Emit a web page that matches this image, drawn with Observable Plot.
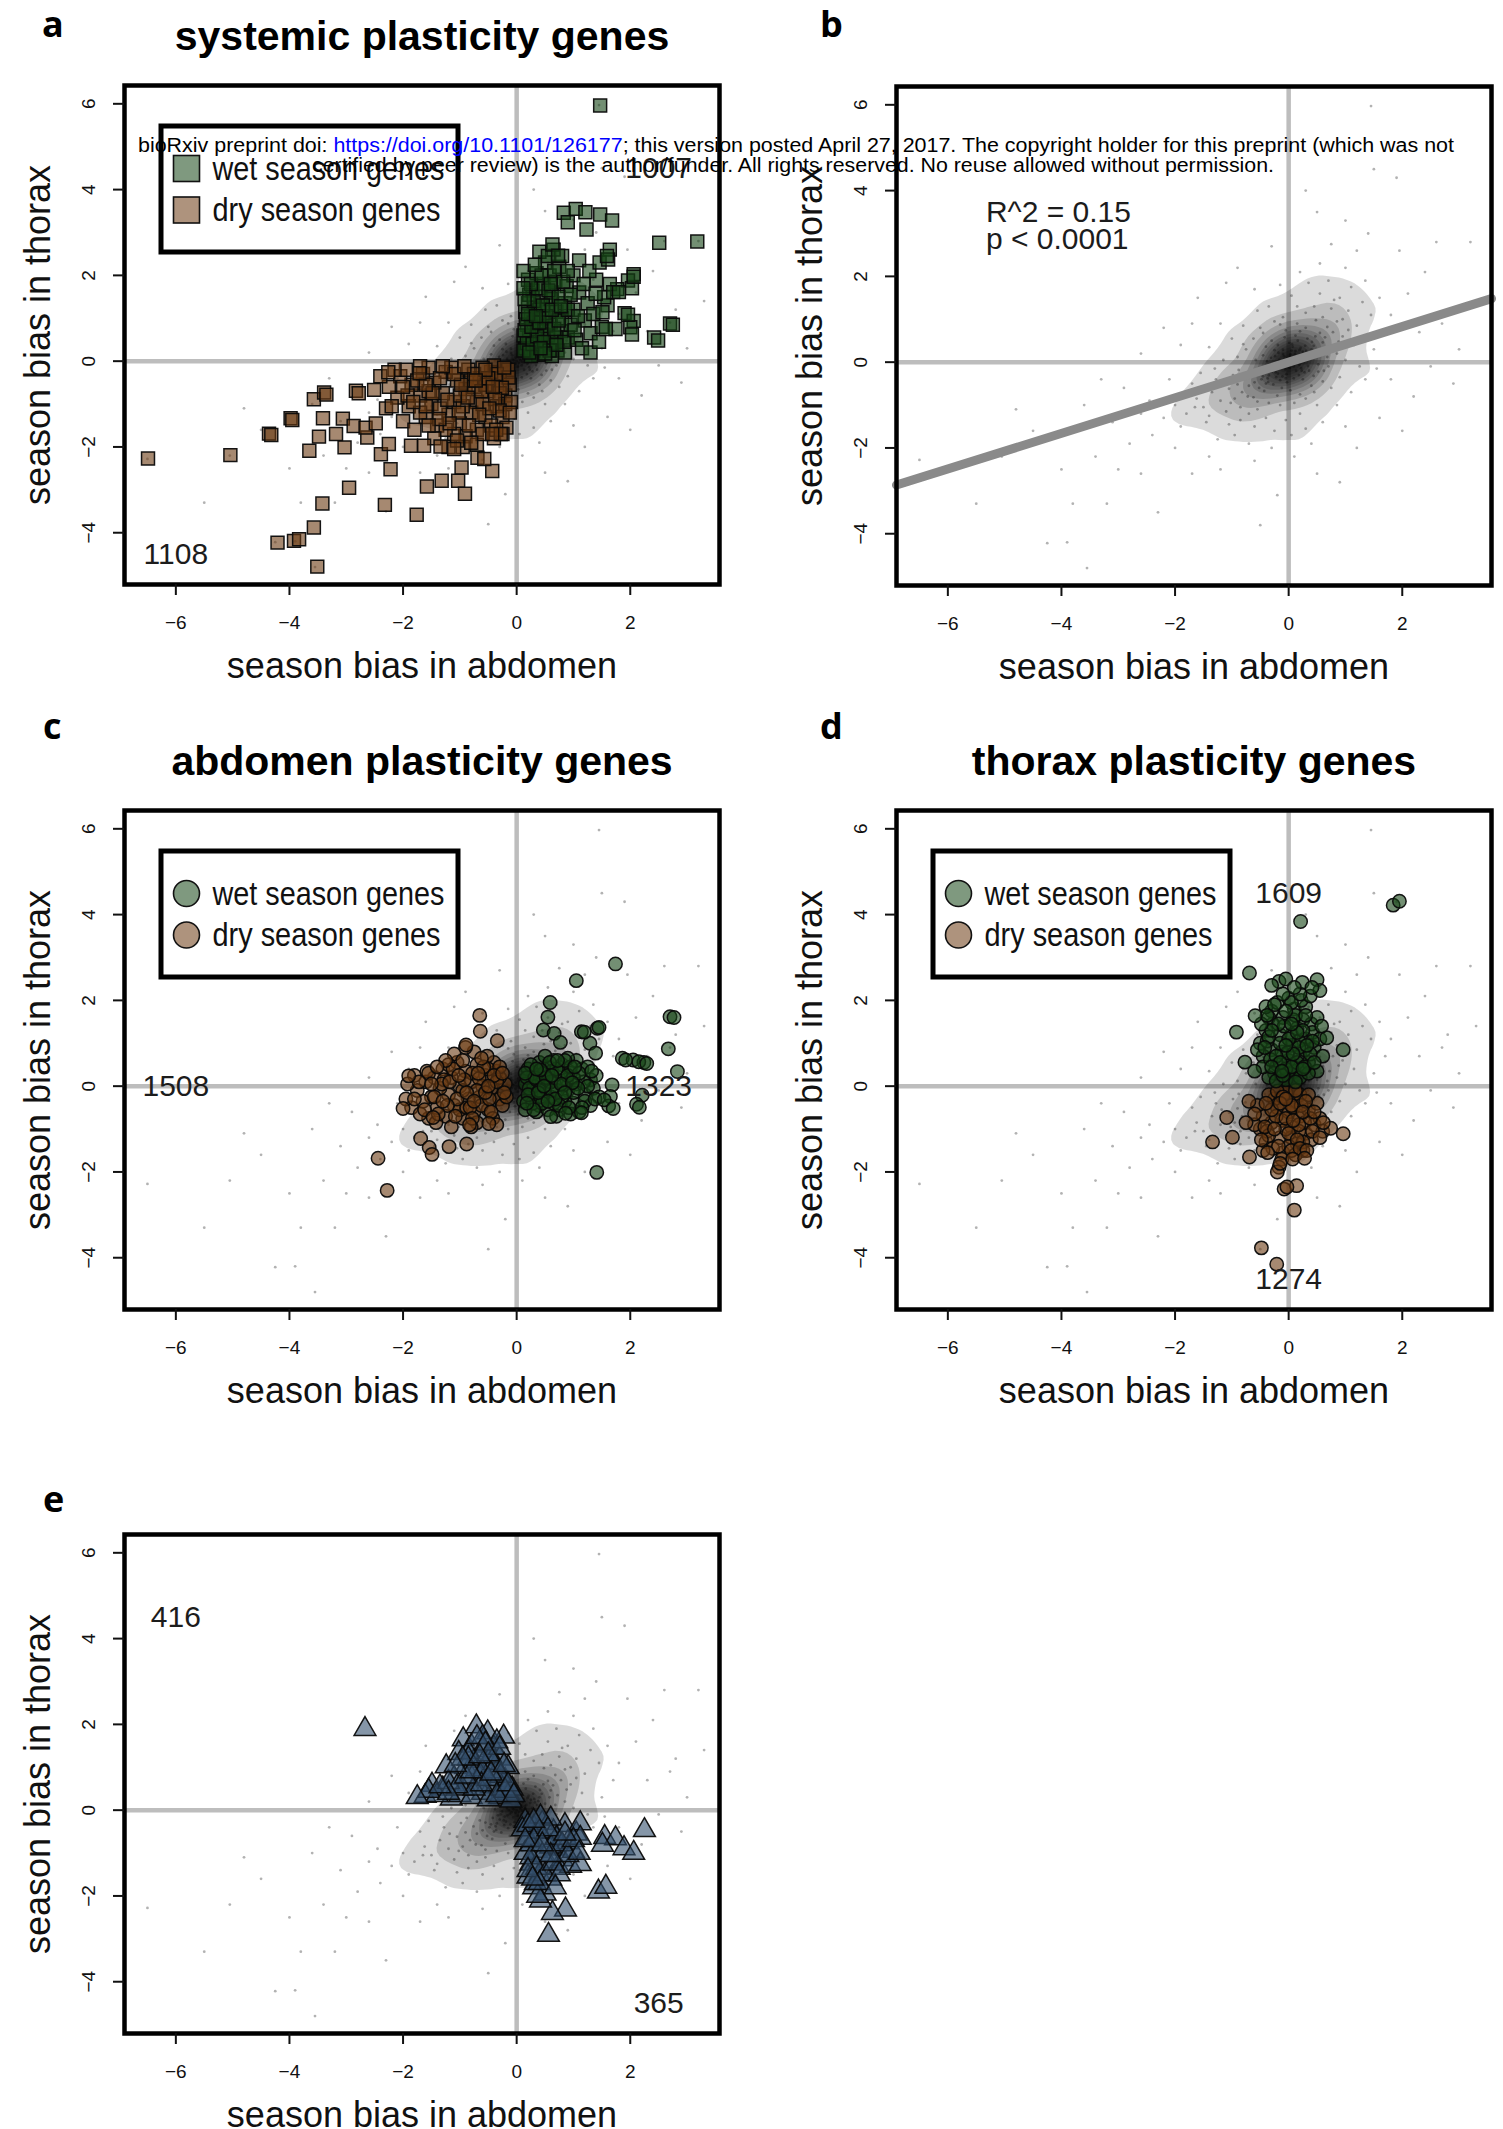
<!DOCTYPE html>
<html>
<head>
<meta charset="utf-8">
<script src="https://cdn.jsdelivr.net/npm/d3@7"></script>
<script src="https://cdn.jsdelivr.net/npm/@observablehq/plot@0.6"></script>
<style>
  html, body { margin: 0; padding: 0; background: #fff; }
  #page { position: relative; width: 1503px; height: 2129px; overflow: hidden; background: #fff;
          font-family: "Liberation Sans", Arial, sans-serif; }
  .panel { position: absolute; }
  .letter { position: absolute; font-family: "Open Sans", sans-serif; font-weight: 700;
            font-size: 36px; line-height: 1; color: #000; }
  svg.overlay { position: absolute; left: 0; top: 0; pointer-events: none; }
</style>
</head>
<body>
<div id="page"></div>
<script>
// ---- axes -------------------------------------------------------------
const xTicks = [-6, -4, -2, 0, 2];
const yTicks = [-4, -2, 0, 2, 4, 6];
const xDomain = [-6.904, 3.571];
const yDomain = [-5.207, 6.427];
const xLabel = "season bias in abdomen";
const yLabel = "season bias in thorax";

// ---- all genes: season bias (abdomen, thorax) ------------------------
const backgroundGenes = [
  [-0.05,0.02],[0.08,0.11],[-0.12,-0.09],[0.15,0.04],[-0.21,-0.15],[0.02,-0.13],[0.11,0.19],[-0.08,0.14],[0.24,0.17],[-0.3,-0.22],
  [0.05,0.27],[-0.17,0.05],[0.19,-0.06],[-0.26,-0.03],[0.31,0.26],[-0.04,-0.28],[0.13,-0.2],[-0.35,-0.31],[0.27,0.05],[-0.1,0.29],
  [0.38,0.21],[-0.42,-0.18],[0.07,0.36],[-0.22,-0.35],[0.21,0.33],[-0.31,0.1],[0.34,-0.09],[-0.15,-0.42],[0.44,0.38],[-0.48,-0.4],
  [0.01,0.45],[-0.38,0.02],[0.28,-0.24],[-0.03,-0.47],[0.5,0.15],[-0.55,-0.29],[0.16,0.5],[-0.27,-0.52],[0.41,0.47],[-0.45,0.16],
  [0.52,-0.05],[-0.6,-0.47],[0.09,-0.38],[-0.19,0.4],[0.33,0.55],[-0.52,-0.6],[0.58,0.3],[-0.07,0.58],[0.25,-0.4],[-0.36,-0.46],
  [0.47,0.6],[-0.65,-0.24],[0.6,0.46],[-0.25,0.28],[0.12,0.62],[-0.7,-0.55],[0.36,-0.2],[-0.12,-0.6],[0.55,0.68],[-0.58,0.05],
  [0.68,0.12],[-0.43,-0.67],[0.2,0.72],[-0.76,-0.38],[0.44,-0.32],[-0.3,0.5],[0.64,0.58],[-0.82,-0.7],[0.03,-0.66],[-0.05,0.74],
  [0.72,0.35],[-0.62,-0.82],[0.3,0.8],[-0.9,-0.52],[0.52,-0.22],[-0.4,0.36],[0.78,0.7],[-0.2,-0.78],[0.15,0.9],[-0.95,-0.85],
  [0.0,0.0],[0.04,-0.04],[-0.02,0.08],[0.1,-0.02],[-0.09,-0.05],[0.06,0.06],[-0.14,0.0],[0.17,0.12],[-0.06,-0.17],[0.12,0.26],
  [-0.23,-0.24],[0.22,-0.14],[-0.33,-0.12],[0.36,0.12],[-0.18,0.22],[0.03,0.18],[-0.11,-0.33],[0.29,0.38],[-0.4,-0.5],[0.18,-0.3],
  [-0.02,-0.06],[0.07,0.02],[-0.07,0.05],[0.02,0.12],[-0.16,-0.12],[0.14,0.09],[-0.1,0.19],[0.09,-0.1],[-0.28,-0.1],[0.25,0.24],
  [-0.19,-0.27],[0.19,0.28],[-0.37,-0.38],[0.32,0.18],[-0.05,-0.38],[0.06,0.42],[-0.45,-0.33],[0.4,0.3],[-0.24,0.14],[0.23,-0.2],
  [-1.05,-0.62],[-1.2,-0.9],[-1.35,-0.7],[-1.1,-1.15],[-0.98,-0.3],[-1.5,-1.05],[-1.62,-0.85],[-1.28,-0.4],[-1.8,-1.2],[-1.45,-1.4],
  [-0.85,-1.05],[-0.7,-1.2],[-1.05,-1.45],[-0.55,-1.1],[-0.9,0.12],[-0.75,0.3],[-1.15,0.05],[-0.62,0.55],[-1.3,-0.15],[-0.5,0.8],
  [0.85,0.95],[0.95,0.6],[1.05,1.2],[0.75,1.25],[0.6,1.05],[1.2,0.85],[0.9,1.5],[0.45,1.3],[1.3,1.4],[0.55,1.6],
  [0.3,1.15],[0.15,1.3],[-0.1,1.05],[-0.25,0.95],[0.05,1.55],[-0.35,1.3],[0.35,1.85],[0.7,1.9],[1.1,1.75],[1.45,1.1],
  [0.85,0.2],[1.0,0.05],[0.7,-0.1],[1.15,0.4],[0.9,-0.35],[0.6,-0.45],[0.45,-0.7],[0.3,-0.85],[0.75,-0.6],[1.25,-0.1],
  [0.1,-0.95],[-0.15,-1.0],[-0.35,-0.95],[0.2,-1.2],[-0.05,-1.35],[-0.4,-1.3],[0.5,-1.0],[-0.6,-1.5],[0.05,-1.7],[-0.25,-1.6],
  [-1.7,-0.5],[-2.0,-1.0],[-1.9,-1.5],[-2.2,-1.3],[-1.55,-0.25],[-2.4,-1.7],[-1.25,-1.8],[-0.95,-1.7],[-2.6,-1.2],[-1.0,0.55],
  [-1.4,0.35],[-0.8,0.85],[-0.55,1.2],[-1.2,0.9],[-0.15,1.8],[0.2,2.1],[0.55,2.3],[1.0,2.2],[1.35,1.9],[1.6,1.5],
  [1.7,0.7],[1.5,0.3],[1.35,-0.4],[1.1,-0.7],[0.85,-1.0],[0.6,-1.4],[0.3,-1.55],[1.55,-0.15],[1.8,1.1],[-0.7,-1.9],
  [-0.88,-0.18],[-1.02,-0.95],[-0.72,-0.8],[-1.18,-0.55],[-0.8,0.42],[0.68,0.82],[0.88,0.48],[0.48,0.98],[0.95,1.0],[0.62,-0.2],
  [-0.45,0.68],[-0.15,0.88],[0.4,-0.55],[0.2,-0.75],[-0.55,-0.92],[-1.4,-1.25],[-1.65,-1.05],[-0.85,-1.35],[1.05,0.75],[0.8,1.45],
  [-2.8,-1.9],[-3.1,-1.4],[-3.4,-2.2],[-2.9,-0.6],[-3.6,-1.0],[-4.0,-2.5],[-4.5,-1.6],[-4.25,-4.22],[-3.9,-4.2],[-3.55,-4.8],
  [-5.05,-2.2],[-6.5,-2.28],[-5.5,-3.3],[-3.2,-3.3],[-2.3,-3.5],[-1.7,-2.6],[-1.2,-2.5],[-0.6,-2.3],[0.1,-2.2],[0.5,-2.6],
  [-0.2,-3.1],[1.2,-2.0],[1.6,-1.3],[2.2,-0.8],[2.5,-0.1],[2.3,0.7],[2.8,1.2],[3.2,2.8],[2.6,2.8],[1.95,2.6],
  [1.4,3.0],[1.0,3.3],[0.5,3.5],[-0.3,2.7],[-0.9,2.2],[-1.6,1.5],[-2.2,0.8],[-2.6,0.2],[-1.9,0.4],[0.3,4.0],
  [1.45,5.97],[1.9,4.3],[1.5,4.5],[-1.1,1.85],[2.0,-1.6],[0.9,-2.8],[-0.5,-3.8],[-2.6,-2.6],[-3.8,-3.3],[-4.8,-1.1],
  [3.0,0.3],[2.9,-0.5],[-3.0,-2.5],[-2.0,-2.0],[-2.45,-0.9],[-3.3,-0.4],[1.8,-0.4],[2.1,1.6],[2.4,2.1],[1.2,2.6],
  [-0.6,1.7],[0.75,2.75],[-1.4,-2.2],[-0.3,-2.0],[0.4,-1.9],[1.0,-1.5],[2.7,0.9],[-1.7,0.9],[-2.1,-0.4],[3.3,1.4]
];

// ---- a: systemic plasticity genes -------------------------------------
const systemicWet = [
  [0.15,0.3],[0.22,0.55],[0.3,0.25],[0.18,0.85],[0.4,0.45],[0.35,0.75],[0.25,1.05],[0.5,0.3],[0.45,1.0],[0.55,0.6],
  [0.2,1.35],[0.6,0.9],[0.32,1.25],[0.65,0.4],[0.42,1.5],[0.7,1.15],[0.28,1.65],[0.55,1.3],[0.78,0.7],[0.15,1.15],
  [0.38,0.15],[0.62,1.6],[0.8,1.0],[0.48,1.8],[0.2,1.9],[0.72,0.25],[0.85,1.35],[0.35,2.05],[0.9,0.55],[0.58,2.0],
  [0.12,0.6],[0.95,0.85],[0.68,1.85],[1.0,1.2],[0.25,0.12],[0.85,0.2],[1.05,0.5],[0.75,2.2],[1.1,1.6],[0.5,2.3],
  [0.18,0.42],[0.45,0.62],[0.3,0.9],[0.62,0.12],[0.52,0.82],[0.4,1.2],[0.7,0.55],[0.22,1.55],[0.6,1.45],[0.88,1.75],
  [1.15,0.3],[1.2,0.95],[1.25,1.35],[1.0,2.0],[0.8,2.45],[0.65,2.6],[1.3,0.65],[1.1,2.35],[0.4,2.55],[0.12,2.1],
  [1.35,1.1],[1.4,1.9],[1.3,0.2],[1.5,0.8],[1.45,0.45],[1.6,1.3],[1.28,2.1],[1.18,1.8],
  [0.12,0.25],[0.28,0.4],[0.36,0.58],[0.14,0.72],[0.48,0.45],[0.58,0.25],[0.26,0.8],[0.4,0.9],[0.52,1.05],[0.16,0.98],
  [0.66,0.75],[0.74,0.95],[0.3,1.4],[0.46,1.3],[0.62,1.2],[0.14,1.45],[0.38,1.7],[0.56,1.65],[0.74,1.5],[0.25,1.8],
  [0.44,2.0],[0.66,2.1],[0.82,1.85],[0.9,1.2],[0.84,0.45],[0.22,0.2],[0.12,1.7],[0.32,2.25],[0.55,2.45],[0.95,1.55],
  [0.7,0.38],[1.02,0.72],[0.2,1.1],[0.5,0.18],[0.78,1.28],[0.34,1.05],[0.6,1.8],[1.08,1.05],[0.42,0.3],[0.9,2.1],
  [1.47,5.96],[0.83,3.46],[1.04,3.55],[1.21,3.47],[1.47,3.42],[1.68,3.28],[0.9,3.24],[1.23,3.07],[2.51,2.76],[3.18,2.79],
  [0.63,2.72],[1.64,2.6],[0.73,2.46],[1.46,2.3],[1.61,2.37],[2.06,2.03],[1.96,1.88],[2.03,1.7],[1.77,1.68],[1.64,1.8],
  [1.54,1.49],[1.9,1.12],[2.06,0.94],[2.7,0.88],[2.0,0.79],[2.42,0.55],[1.74,0.75],[1.57,0.75],[1.51,1.14],[1.39,1.57],
  [1.59,2.45],[2.06,1.97],[1.7,1.61],[1.96,1.08],[2.75,0.85],[2.49,0.48],[2.03,0.62],[1.8,1.61]
];
const systemicDry = [
  [-0.15,-0.2],[-0.3,-0.45],[-0.2,-0.8],[-0.45,-0.25],[-0.5,-0.7],[-0.35,-1.05],[-0.65,-0.4],[-0.7,-0.95],[-0.55,-1.3],[-0.85,-0.2],
  [-0.9,-0.65],[-0.8,-1.2],[-1.05,-0.45],[-1.1,-0.95],[-1.0,-1.45],[-1.25,-0.25],[-1.3,-0.75],[-1.2,-1.25],[-1.45,-0.5],[-1.5,-1.0],
  [-1.4,-1.5],[-1.65,-0.3],[-1.7,-0.8],[-1.6,-1.3],[-1.85,-0.55],[-1.9,-1.05],[-2.05,-0.35],[-2.1,-0.85],[-2.0,-1.4],[-2.25,-0.6],
  [-0.12,-0.55],[-0.25,-1.3],[-0.4,-0.1],[-0.6,-0.15],[-0.75,-0.6],[-0.95,-1.05],[-1.15,-0.15],[-1.35,-1.1],[-1.55,-0.7],[-1.8,-1.6],
  [-0.3,-0.75],[-0.45,-1.5],[-0.7,-1.6],[-0.9,-1.75],[-1.1,-1.7],[-0.2,-1.0],[-0.6,-1.0],[-1.0,-0.8],[-1.25,-1.6],[-1.45,-1.8],
  [-0.1,-0.95],[-0.35,-0.3],[-0.8,-0.45],[-1.55,-0.15],[-2.3,-1.1],[-2.4,-0.35],[-0.18,-1.55],[-0.55,-0.55],[-1.7,-1.2],[-1.95,-0.2],
  [-0.95,-2.0],[-0.7,-1.95],[-1.2,-2.0],[-0.4,-1.8],[-0.25,-1.7],
  [-0.14,-0.38],[-0.26,-0.62],[-0.38,-0.88],[-0.5,-0.4],[-0.62,-0.7],[-0.75,-0.3],[-0.86,-0.85],[-0.98,-0.55],[-1.1,-0.3],[-1.22,-0.9],
  [-1.35,-0.4],[-1.48,-0.75],[-1.6,-1.05],[-1.75,-0.45],[-1.92,-0.8],[-0.3,-1.15],[-0.48,-1.1],[-0.66,-1.25],[-0.84,-1.5],[-1.02,-1.2],
  [-1.18,-1.45],[-1.36,-1.35],[-1.55,-1.5],[-0.22,-0.15],[-0.55,-0.2],[-0.92,-0.12],[-1.3,-0.12],[-1.7,-0.12],[-2.15,-0.2],[-2.2,-1.05],
  [-0.12,-1.2],[-0.36,-1.6],[-0.6,-1.7],[-0.8,-1.9],[-1.05,-1.85],[-1.6,-0.55],[-1.82,-0.95],[-2.0,-0.6],[-0.72,-0.45],[-0.42,-0.6],
  [-6.49,-2.27],[-5.04,-2.19],[-4.36,-1.69],[-3.98,-1.33],[-3.57,-0.89],[-3.39,-0.73],[-3.41,-1.33],[-3.65,-2.09],[-3.48,-1.76],[-3.18,-1.7],
  [-3.06,-1.34],[-3.03,-2.01],[-2.87,-1.51],[-2.83,-0.69],[-2.63,-1.78],[-2.66,-1.55],[-2.51,-0.67],[-2.48,-1.45],[-2.39,-2.17],[-2.25,-1.93],
  [-2.22,-2.52],[-2.26,-0.26],[-2.95,-2.95],[-3.42,-3.32],[-3.57,-3.88],[-4.21,-4.23],[-3.92,-4.19],[-3.83,-4.15],[-3.51,-4.79],[-2.32,-3.35],
  [-1.76,-3.58],[-1.58,-2.92],[-1.32,-2.79],[-1.03,-2.79],[-0.91,-3.09],[-0.97,-2.48],[-0.43,-2.56],[-0.69,-2.25],[-0.57,-2.28],[-1.86,-1.97],
  [-1.63,-1.97],[-1.34,-1.99],[-1.1,-2.05],[-0.28,-1.7],[-0.43,-1.7],[-1.71,-0.28],[-2.78,-0.75],[-3.35,-0.78],[-3.95,-1.37],[-4.32,-1.72]
];
const systemicCounts = [1007, 1108];

// ---- b: all genes, linear fit ----------------------------------------
const fit = {intercept: 0.0, slope: 0.415};
const fitStats = ["R^2 = 0.15", "p < 0.0001"];

// ---- c: abdomen plasticity genes -------------------------------------
const abdomenWet = [
  [0.15,0.05],[0.25,-0.2],[0.3,0.3],[0.4,-0.45],[0.45,0.1],[0.55,0.45],[0.6,-0.25],[0.7,0.15],[0.75,-0.55],[0.8,0.5],
  [0.9,-0.1],[0.95,0.3],[1.0,-0.4],[1.05,0.05],[1.15,0.4],[1.2,-0.2],[1.3,0.15],[0.2,0.4],[0.35,-0.6],[0.5,-0.05],
  [0.65,0.6],[0.85,-0.35],[1.1,-0.6],[0.12,-0.35],[0.4,0.55],[0.62,0.35],[0.88,0.15],[1.25,0.45],[0.3,0.0],[0.72,-0.1],
  [0.55,-0.55],[1.35,-0.05],[0.18,0.2],[0.48,0.3],[0.95,-0.65],[0.78,0.32],[1.05,0.6],[0.28,-0.4],[0.65,-0.4],[1.18,0.1],
  [0.22,-0.05],[0.42,-0.25],[0.82,0.02],[1.0,0.2],[0.6,0.1],[0.35,0.15],[1.4,0.25],[1.45,-0.25],[0.9,0.65],[0.5,0.7],
  [0.7,-0.7],[0.15,-0.55],[1.3,-0.45],[0.95,0.45],[0.4,-0.1],
  [0.2,-0.2],[0.32,0.2],[0.45,-0.4],[0.52,0.2],[0.62,-0.1],[0.7,0.4],[0.8,-0.25],[0.9,0.25],[1.0,-0.15],[1.1,0.3],
  [1.2,-0.35],[1.25,0.0],[0.25,0.5],[0.38,-0.15],[0.58,0.55],[0.75,-0.45],[0.85,0.6],[1.02,0.45],[1.15,-0.5],[0.3,-0.55],
  [0.15,0.3],[0.42,0.38],[0.68,-0.3],[0.92,-0.5],[1.08,-0.05],[0.55,-0.35],[0.78,0.05],[0.48,0.0],[0.98,0.08],[1.32,0.35],
  [0.62,0.25],[0.85,-0.15],[0.35,0.4],[1.38,-0.3],[0.72,0.6],[0.18,-0.4],
  [0.59,1.95],[0.55,1.61],[0.47,1.31],[0.66,1.23],[1.14,1.27],[1.42,1.35],[1.45,1.37],[0.77,1.02],[1.29,1.0],[1.39,0.77],
  [2.7,1.62],[2.67,0.87],[1.86,0.65],[2.05,0.61],[2.24,0.55],[2.15,0.57],[2.83,0.34],[2.21,-0.21],[2.11,-0.42],[1.68,0.03],
  [1.65,-0.24],[1.62,-0.46],[1.54,-0.32],[1.14,-0.62],[0.6,-0.71],[0.86,-0.63],[1.41,-2.01],[1.74,2.85],[1.05,2.46],[1.19,1.26],
  [2.77,1.6],[1.92,0.61],[2.29,0.53],[2.16,-0.49],[1.7,-0.52]
];
const abdomenDry = [
  [-0.2,0.05],[-0.3,-0.3],[-0.35,0.35],[-0.45,-0.05],[-0.5,-0.55],[-0.55,0.25],[-0.65,-0.25],[-0.7,0.5],[-0.75,-0.6],[-0.8,0.1],
  [-0.85,-0.3],[-0.9,0.35],[-0.95,-0.75],[-1.0,0.0],[-1.05,0.55],[-1.1,-0.45],[-1.15,0.2],[-1.2,-0.2],[-1.25,-0.7],[-1.3,0.4],
  [-1.35,-0.05],[-1.4,-0.5],[-1.45,0.2],[-1.5,-0.25],[-1.55,-0.75],[-1.6,0.1],[-1.65,-0.35],[-1.75,-0.1],[-1.8,0.25],[-1.85,-0.5],
  [-0.25,-0.45],[-0.4,0.55],[-0.6,0.0],[-0.7,-0.85],[-0.75,0.8],[-0.9,0.9],[-0.95,-0.1],[-1.0,-0.55],[-1.1,0.75],[-1.2,0.5],
  [-0.3,0.2],[-0.5,0.4],[-0.62,-0.45],[-0.78,0.3],[-1.28,0.15],[-1.42,-0.85],[-1.58,0.35],[-0.42,-0.75],[-0.18,-0.25],[-0.88,-0.5],
  [-0.52,0.7],[-0.66,0.18],[-1.92,0.05],[-1.7,-0.65],[-0.35,-0.9],[-1.15,-0.95],[-0.8,-0.95],[-1.95,-0.3],
  [-0.22,-0.15],[-0.35,0.1],[-0.48,-0.3],[-0.58,0.45],[-0.7,-0.1],[-0.82,-0.5],[-0.92,0.15],[-1.05,-0.3],[-1.12,0.4],[-1.22,-0.45],
  [-1.32,0.05],[-1.45,-0.25],[-1.55,0.3],[-1.62,-0.55],[-1.72,0.1],[-0.3,0.45],[-0.45,-0.6],[-0.62,0.65],[-0.78,-0.75],[-0.95,0.6],
  [-1.08,-0.7],[-1.25,0.6],[-1.38,-0.65],[-1.5,0.05],[-1.8,-0.3],[-0.4,0.25],[-0.55,-0.15],[-0.68,0.3],[-0.88,-0.15],[-1.18,0.1],
  [-0.25,0.3],[-1.02,0.25],[-1.4,0.45],[-0.75,-0.35],[-1.3,-0.35],[-0.5,0.0],
  [-0.65,1.65],[-0.64,1.28],[-0.34,1.06],[-0.89,0.96],[-1.9,0.24],[-2.0,-0.52],[-1.69,-1.22],[-1.54,-1.43],[-1.49,-1.59],[-1.19,-1.41],
  [-0.88,-1.35],[-2.44,-1.68],[-2.28,-2.43],[-1.47,-0.73],[-0.83,-0.9],[-0.49,-0.87]
];
const abdomenCounts = [1508, 1323];

// ---- d: thorax plasticity genes --------------------------------------
const thoraxWet = [
  [-0.05,0.15],[0.1,0.35],[-0.2,0.5],[0.2,0.7],[-0.3,0.85],[0.05,0.95],[0.3,1.1],[-0.15,1.2],[0.15,1.35],[-0.4,1.3],
  [0.35,0.55],[-0.45,0.7],[0.25,1.55],[-0.1,1.6],[0.1,1.8],[-0.3,1.75],[0.4,1.45],[-0.5,1.0],[0.0,0.6],[-0.25,0.3],
  [0.2,0.2],[0.45,0.9],[-0.35,0.2],[0.05,1.2],[-0.2,1.95],[0.3,1.85],[0.0,2.05],[-0.05,0.4],[0.15,0.55],[-0.12,0.8],
  [0.28,0.85],[-0.38,1.05],[0.42,1.25],[-0.28,1.45],[0.08,1.55],[-0.45,0.45],[0.5,0.35],[0.35,0.3],[-0.15,1.0],[0.18,1.05],
  [-0.08,1.4],[0.22,2.0],[-0.35,1.6],[0.5,1.6],[-0.55,0.85],[0.55,1.1],[0.12,0.1],[-0.22,0.12],[0.05,1.95],[-0.4,1.85],
  [0.38,2.1],[0.28,0.45],[-0.02,0.78],[-0.32,0.62],[0.6,0.7],[-0.6,0.35],
  [-0.1,0.25],[0.05,0.45],[-0.22,0.7],[0.18,0.9],[-0.35,1.15],[0.0,1.1],[0.25,1.3],[-0.18,1.45],[0.12,1.65],[-0.3,1.3],
  [0.38,0.75],[-0.42,0.9],[0.3,1.65],[-0.05,1.75],[0.15,1.25],[-0.25,1.9],[0.42,1.05],[-0.48,1.45],[0.08,0.75],[-0.15,0.55],
  [0.25,0.4],[0.45,0.55],[-0.3,0.45],[0.05,1.45],[-0.1,2.15],[0.2,2.15],[-0.12,0.35],[0.32,0.95],[-0.05,0.95],[-0.38,1.65],
  [1.84,4.22],[1.95,4.31],[0.21,3.84],[-0.69,2.64],[-0.17,2.44],[-0.05,2.5],[0.24,2.42],[0.5,2.48],[0.55,2.23],[0.41,2.3],
  [-0.92,1.26],[-0.59,1.64],[-0.77,0.56],[0.96,0.85],[0.67,1.13],[0.58,1.4],[-0.3,2.35],[0.1,2.3]
];
const thoraxDry = [
  [-0.05,-0.15],[0.1,-0.35],[-0.2,-0.5],[0.2,-0.7],[-0.3,-0.85],[0.05,-0.95],[0.3,-1.1],[-0.15,-1.2],[0.15,-1.35],[-0.4,-1.3],
  [0.35,-0.55],[-0.45,-0.7],[0.25,-1.5],[-0.1,-1.55],[0.0,-0.6],[-0.25,-0.3],[0.2,-0.2],[0.45,-0.9],[-0.35,-0.2],[0.05,-1.2],
  [-0.5,-1.0],[0.5,-0.4],[0.4,-1.25],[-0.55,-0.45],[0.12,-0.1],[-0.12,-0.8],[0.28,-0.85],[-0.38,-1.05],[0.55,-0.75],[-0.28,-1.45],
  [0.08,-0.5],[-0.2,-0.12],[0.35,-0.2],[-0.05,-1.0],[0.18,-1.05],[-0.6,-0.9],[0.6,-1.05],[-0.45,-1.5],[0.0,-1.4],[0.22,-0.45],
  [-0.1,-0.25],[0.05,-0.45],[-0.22,-0.7],[0.18,-0.9],[-0.35,-1.15],[0.0,-1.1],[0.25,-1.3],[-0.18,-1.4],[0.12,-1.6],[-0.3,-0.55],
  [0.38,-0.75],[-0.42,-0.95],[0.3,-0.35],[-0.05,-0.75],[0.15,-1.25],[-0.25,-1.0],[0.42,-1.05],[-0.48,-1.25],[0.08,-0.8],[-0.15,-0.4],
  [0.25,-0.6],[0.45,-0.6],[-0.4,-0.4],[0.05,-1.5],[-0.12,-1.7],[0.2,-1.45],[-0.6,-0.65],[0.55,-1.2],[-0.05,-0.3],[0.32,-1.5],
  [-1.34,-1.3],[-1.09,-0.73],[-0.99,-1.19],[-0.69,-1.65],[-0.48,-3.77],[-0.21,-4.15],[0.1,-2.89],[-0.08,-2.4],[0.14,-2.32],[-0.03,-2.35],
  [-0.17,-1.89],[0.07,-1.7],[0.28,-1.68],[0.74,-0.98],[0.96,-1.11],[0.61,-0.85],[-0.37,-1.55],[-0.7,-0.35],[-0.75,-0.85],[-0.2,-2.0],
  [-0.15,-1.8]
];
const thoraxCounts = [1609, 1274];

// ---- e: opposite-direction genes -------------------------------------
const oppositeUp = [
  [-2.67,1.89],[-0.71,1.95],[-0.51,1.81],[-0.23,1.71],[-0.94,1.65],[-1.02,1.33],[-1.24,1.02],[-1.49,0.59],[-1.61,0.33],[-1.15,0.27],
  [-0.8,1.5],[-0.6,1.4],[-0.4,1.45],[-0.3,1.2],[-0.75,1.15],[-0.55,1.05],[-0.9,1.0],[-1.1,0.75],[-0.35,0.9],[-0.2,0.7],
  [-0.65,0.75],[-0.85,0.6],[-1.3,0.5],[-0.45,0.55],[-0.15,0.4],[-0.6,0.4],[-1.0,0.35],[-0.3,0.3],[-0.8,0.3],[-1.4,0.35],
  [-0.1,0.22],[-0.5,0.25],[-0.25,0.5],[-0.95,0.5],[-0.7,0.95],[-0.45,1.25],[-1.2,0.65],[-0.15,1.0],[-0.35,1.6],[-0.6,1.7],
  [-0.85,1.35],[-0.08,0.5],[-1.55,0.45],[-1.75,0.3],
  [-0.7,1.7],[-0.55,1.55],[-0.85,1.2],[-0.4,1.1],[-0.6,0.9],[-0.28,0.8],[-0.75,0.5],[-0.5,0.72],[-1.05,0.55],[-0.2,0.45],
  [-0.35,0.35],[-0.9,0.78],[-1.2,0.4],[-0.62,0.6],[-0.45,0.85],[-0.15,0.6],[-1.35,0.55],[-0.8,0.9],[-0.95,1.2],[-0.3,1.45],
  [-0.5,1.3],[-0.22,1.05],[-1.08,1.05],[-0.65,1.25],[-0.05,0.35]
];
const oppositeDown = [
  [0.15,-0.25],[0.3,-0.4],[0.2,-0.65],[0.45,-0.3],[0.5,-0.7],[0.35,-0.95],[0.65,-0.5],[0.7,-0.9],[0.55,-1.2],[0.85,-0.35],
  [0.9,-0.75],[0.8,-1.15],[1.05,-0.55],[1.0,-0.95],[0.25,-1.25],[0.4,-1.5],[0.3,-1.8],[0.6,-1.6],[0.15,-1.0],[0.5,-1.95],
  [0.75,-1.35],[0.95,-1.3],[0.2,-1.55],[1.12,-0.31],[1.12,-0.65],[1.55,-0.63],[1.74,-0.66],[1.89,-0.89],[2.06,-1.0],[2.25,-0.47],
  [1.51,-0.81],[1.12,-1.26],[1.44,-1.9],[1.57,-1.79],[0.86,-2.32],[0.63,-2.4],[0.56,-2.91],[0.42,-2.11],[0.33,-1.7],[0.37,-2.0],
  [0.6,-0.2],[0.1,-0.45],[0.25,-0.8],[0.42,-0.15],
  [0.2,-0.35],[0.4,-0.5],[0.3,-0.7],[0.6,-0.85],[0.45,-1.05],[0.25,-1.1],[0.7,-0.65],[0.55,-0.45],[0.8,-0.8],[0.35,-1.35],
  [0.5,-1.5],[0.65,-1.25],[0.2,-1.4],[0.4,-1.7],[0.9,-1.05],[1.0,-0.7],[0.15,-0.7],[0.6,-1.05],[0.75,-1.5],[0.3,-0.25],
  [0.85,-0.55],[0.45,-0.8],[0.28,-1.6],[0.68,-1.8],[1.1,-1.0]
];
const oppositeCounts = [416, 365];

const legendLabels = ["wet season genes", "dry season genes"];
const watermark = [
  ["bioRxiv preprint doi: ", "https://doi.org/10.1101/126177", "; this version posted April 27, 2017. The copyright holder for this preprint (which was not"],
  ["certified by peer review) is the author/funder. All rights reserved. No reuse allowed without permission."]
];

// ---- styling ---------------------------------------------------------
const WET = "#154515", DRY = "#6b3a12", OPP = "#34506e";
const FONT = "Liberation Sans, Arial, sans-serif";
const FW = 595, FH = 499;           // plotting region
const ML = 124, MT = 85, MR = 10, MB = 115;
const X = d => d[0], Y = d => d[1];

function markerDots(data, fill, symbol, r) {
  return Plot.dot(data, {x: X, y: Y, symbol, r, fill, fillOpacity: 0.6,
                         stroke: "#0a0a0a", strokeWidth: 1.5, strokeOpacity: 0.95});
}

function labels(counts, anchors) {
  return Plot.text(counts.map((n, i) => ({n, x: anchors[i][0], y: anchors[i][1]})),
    {x: "x", y: "y", text: d => String(d.n), fontSize: 30, fill: "#1c1c1c"});
}

function panel({title, marks}) {
  return Plot.plot({
    width: ML + FW + MR, height: MT + FH + MB,
    marginLeft: ML, marginTop: MT, marginRight: MR, marginBottom: MB,
    x: {domain: xDomain}, y: {domain: yDomain},
    style: {fontFamily: FONT, background: "transparent", overflow: "visible", color: "#111"},
    marks: [
      Plot.ruleX([0], {stroke: "#bdbdbd", strokeWidth: 4.5}),
      Plot.ruleY([0], {stroke: "#bdbdbd", strokeWidth: 4.5}),
      Plot.density(backgroundGenes, {x: X, y: Y, bandwidth: 11, thresholds: 14,
                                     fill: "#000", fillOpacity: 0.14, stroke: "none"}),
      Plot.dot(backgroundGenes, {x: X, y: Y, r: 1.4, fill: "#000", fillOpacity: 0.3}),
      ...marks,
      Plot.frame({stroke: "#000", strokeWidth: 4.5}),
      Plot.axisX({ticks: xTicks, tickSize: 11, tickPadding: 20, fontSize: 19, strokeWidth: 2, label: null}),
      Plot.axisY({ticks: yTicks, tickSize: 11, tickRotate: -90, tickPadding: 19, fontSize: 19, strokeWidth: 2, label: null}),
      Plot.text([xLabel], {text: d => d, frameAnchor: "bottom", dy: 93, textAnchor: "middle",
                           lineAnchor: "bottom", fontSize: 36, fill: "#111"}),
      Plot.text([yLabel], {text: d => d, frameAnchor: "left", dx: -75, rotate: -90, textAnchor: "middle",
                           lineAnchor: "bottom", fontSize: 36, fill: "#111"}),
      title ? Plot.text([title], {text: d => d, frameAnchor: "top", dy: -36, textAnchor: "middle",
                                  lineAnchor: "bottom", fontSize: 41, fontWeight: "bold", fill: "#000"}) : null
    ]
  });
}

const panels = [
  {id: "a", left: 0, top: 0, title: "systemic plasticity genes",
   marks: [markerDots(systemicDry, DRY, "square", 7.3), markerDots(systemicWet, WET, "square", 7.3),
           labels(systemicCounts, [[2.5, 4.5], [-6, -4.5]])]},
  {id: "b", left: 772, top: 1, title: null,
   marks: [
     Plot.line(xDomain.map(x => ({x, y: fit.intercept + fit.slope * x})),
               {x: "x", y: "y", stroke: "#8a8a8a", strokeWidth: 9}),
     Plot.text([fitStats.join("\n")], {text: d => d, x: -5.33, y: 2.65, textAnchor: "start",
               lineAnchor: "bottom", lineHeight: 0.88, fontSize: 30, fill: "#1c1c1c"})
   ]},
  {id: "c", left: 0, top: 725, title: "abdomen plasticity genes",
   marks: [markerDots(abdomenDry, DRY, "circle", 6.7), markerDots(abdomenWet, WET, "circle", 6.7),
           labels(abdomenCounts, [[-6, 0], [2.5, 0]])]},
  {id: "d", left: 772, top: 725, title: "thorax plasticity genes",
   marks: [markerDots(thoraxDry, DRY, "circle", 6.7), markerDots(thoraxWet, WET, "circle", 6.7),
           labels(thoraxCounts, [[0, 4.5], [0, -4.5]])]},
  {id: "e", left: 0, top: 1449, title: null,
   marks: [markerDots(oppositeUp, OPP, "triangle", 8.1), markerDots(oppositeDown, OPP, "triangle", 8.1),
           labels(oppositeCounts, [[-6, 4.5], [2.5, -4.5]])]}
];

const page = document.getElementById("page");
const letterPos = {a: [42, 6], b: [820, 6], c: [43, 708], d: [820, 708], e: [43, 1481]};

for (const p of panels) {
  const div = document.createElement("div");
  div.className = "panel";
  div.style.left = p.left + "px";
  div.style.top = p.top + "px";
  div.appendChild(panel(p));
  page.appendChild(div);
  const L = document.createElement("div");
  L.className = "letter";
  L.textContent = p.id;
  L.style.left = letterPos[p.id][0] + "px";
  L.style.top = letterPos[p.id][1] + "px";
  page.appendChild(L);
}

// legends and the preprint banner sit above the panels
const overlay = d3.select(page).append("svg").attr("class", "overlay")
  .attr("width", 1503).attr("height", 2129);

function drawLegend(x0, y0, kind) {
  const g = overlay.append("g").attr("transform", `translate(${x0},${y0})`);
  g.append("rect").attr("x", 2.5).attr("y", 2.5).attr("width", 297).attr("height", 126)
    .attr("fill", "#fff").attr("stroke", "#000").attr("stroke-width", 5);
  [WET, DRY].forEach((c, i) => {
    const cy = 45 + i * 41.5;
    if (kind === "square") {
      g.append("rect").attr("x", 15).attr("y", cy - 13).attr("width", 26).attr("height", 26)
        .attr("fill", c).attr("fill-opacity", 0.55).attr("stroke", "#111").attr("stroke-width", 1.6);
    } else {
      g.append("circle").attr("cx", 28).attr("cy", cy).attr("r", 13)
        .attr("fill", c).attr("fill-opacity", 0.55).attr("stroke", "#111").attr("stroke-width", 1.6);
    }
    g.append("text").attr("x", 54).attr("y", cy + 11).attr("font-family", FONT).attr("font-size", 34)
      .attr("fill", "#111").attr("textLength", i === 0 ? 232 : 228).attr("lengthAdjust", "spacingAndGlyphs")
      .text(legendLabels[i]);
  });
}
drawLegend(124 + 34.5, 85 + 38.5, "square");
drawLegend(124 + 34.5, 810 + 38.5, "circle");
drawLegend(896 + 34.5, 810 + 38.5, "circle");

const w1 = overlay.append("text").attr("x", 138).attr("y", 152).attr("font-family", FONT)
  .attr("font-size", 20).attr("textLength", 1316).attr("lengthAdjust", "spacingAndGlyphs");
watermark[0].forEach((s, i) => w1.append("tspan").attr("fill", i === 1 ? "#0000ff" : "#000").text(s));
overlay.append("text").attr("x", 312).attr("y", 172).attr("font-family", FONT)
  .attr("font-size", 20).attr("textLength", 962).attr("lengthAdjust", "spacingAndGlyphs")
  .attr("fill", "#000").text(watermark[1][0]);
</script>
</body>
</html>
